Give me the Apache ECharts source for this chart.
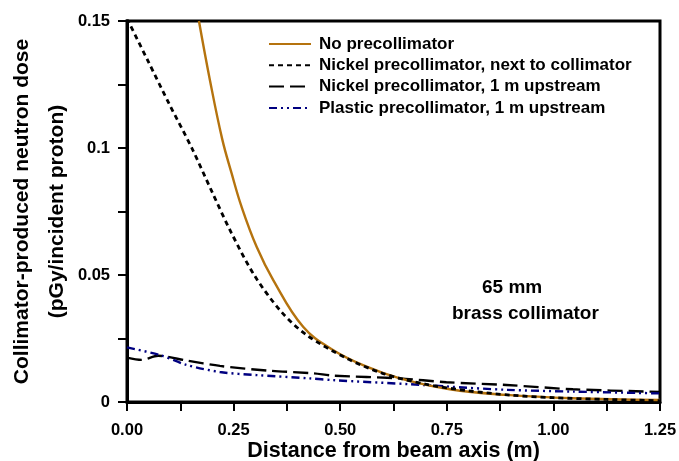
<!DOCTYPE html>
<html>
<head>
<meta charset="utf-8">
<script src="https://cdn.jsdelivr.net/npm/echarts@6/dist/echarts.min.js"></script>
<style>html,body{margin:0;padding:0;background:#fff}#c{width:679px;height:461px}</style>
</head>
<body>
<div id="c"></div>
<script>
const seriesNames = [
  'No precollimator',
  'Nickel precollimator, next to collimator',
  'Nickel precollimator, 1 m upstream',
  'Plastic precollimator, 1 m upstream'
];
const noPre = [[0.1687,0.150],[0.1945,0.1267],[0.2233,0.1035],[0.2454,0.0900],[0.2688,0.0768],[0.304,0.0611],[0.343,0.0480],[0.413,0.0296],[0.483,0.0205],[0.562,0.0139],[0.640,0.0093],[0.757,0.0050],[0.890,0.0028],[1.045,0.0015],[1.25,0.0008]];
const nickelNext = [[0,0.151],[0.05,0.134],[0.10,0.117],[0.152,0.100],[0.20,0.0825],[0.245,0.0665],[0.300,0.0495],[0.362,0.0355],[0.421,0.0264],[0.515,0.0172],[0.601,0.0112],[0.70,0.0070],[0.80,0.0044],[0.90,0.0027],[1.0,0.0017],[1.125,0.0010],[1.25,0.0005]];
const nickelUp = [[0,0.0175],[0.034,0.0166],[0.073,0.0182],[0.14,0.0163],[0.218,0.0142],[0.335,0.0123],[0.437,0.0113],[0.483,0.0104],[0.64,0.0093],[0.749,0.0078],[0.89,0.0067],[1.046,0.0050],[1.25,0.0040]];
const plasticUp = [[0,0.0215],[0.077,0.0185],[0.14,0.0146],[0.218,0.0118],[0.304,0.0106],[0.429,0.0093],[0.483,0.0086],[0.663,0.0070],[0.749,0.0061],[0.89,0.0048],[1.046,0.0041],[1.25,0.0034]];
const xTicks = [0, 0.25, 0.5, 0.75, 1.0, 1.25];
const yTicks = [0, 0.05, 0.1, 0.15];
const annotation = ['65 mm', 'brass collimator'];

const FONT = "'Liberation Sans', Arial, Helvetica, sans-serif";
const chart = echarts.init(document.getElementById('c'), null, {renderer: 'canvas'});
chart.setOption({
  animation: false,
  backgroundColor: '#fff',
  grid: {left: 127, right: 19, top: 21, bottom: 59, show: true, borderColor: '#000', borderWidth: 3, containLabel: false, outerBoundsMode: 'none'},
  xAxis: {
    type: 'value', min: xTicks[0], max: xTicks[xTicks.length - 1], interval: 0.25,
    name: 'Distance from beam axis (m)', nameLocation: 'middle', nameGap: 38, nameMoveOverlap: false,
    nameTextStyle: {fontFamily: FONT, fontWeight: 'bold', fontSize: 21.5, color: '#000'},
    axisLine: {lineStyle: {color: '#000', width: 3}},
    axisTick: {show: true, length: 9, lineStyle: {color: '#000', width: 2}},
    minorTick: {show: true, splitNumber: 2, length: 9, lineStyle: {color: '#000', width: 2}},
    splitLine: {show: false},
    axisLabel: {fontFamily: FONT, fontWeight: 'bold', fontSize: 16.5, color: '#000', margin: 20, formatter: v => v.toFixed(2)}
  },
  yAxis: {
    type: 'value', min: yTicks[0], max: yTicks[yTicks.length - 1], interval: 0.05,
    name: 'Collimator-produced neutron dose\n(pGy/incident proton)', nameLocation: 'middle', nameGap: 52, nameRotate: 90, nameMoveOverlap: false,
    nameTextStyle: {fontFamily: FONT, fontWeight: 'bold', fontSize: 21, color: '#000', lineHeight: 35},
    axisLine: {lineStyle: {color: '#000', width: 3}},
    axisTick: {show: true, length: 9, lineStyle: {color: '#000', width: 2}},
    minorTick: {show: true, splitNumber: 2, length: 9, lineStyle: {color: '#000', width: 2}},
    splitLine: {show: false},
    axisLabel: {fontFamily: FONT, fontWeight: 'bold', fontSize: 16.5, color: '#000', margin: 17}
  },
  legend: {
    orient: 'vertical', left: 268, top: 35, padding: 0, itemWidth: 42, itemHeight: 18, itemGap: 3.3,
    itemStyle: {opacity: 0},
    textStyle: {fontFamily: FONT, fontWeight: 'bold', fontSize: 17, lineHeight: 18, color: '#000', padding: [0,0,0,3]},
    data: seriesNames
  },
  graphic: [
    {type: 'text', x: 482, y: 287.5, style: {text: annotation[0], font: 'bold 19px ' + FONT, fill: '#000', verticalAlign: 'middle', align: 'left'}},
    {type: 'text', x: 452, y: 313.5, style: {text: annotation[1], font: 'bold 19px ' + FONT, fill: '#000', verticalAlign: 'middle', align: 'left'}}
  ],
  series: [
    {name: seriesNames[0], type: 'line', data: noPre, smooth: 0.4, symbol: 'none', clip: true, z: 3,
     lineStyle: {color: '#B5730E', width: 2.4, type: 'solid'}, itemStyle: {color: '#B5730E'}},
    {name: seriesNames[1], type: 'line', data: nickelNext, smooth: 0.3, symbol: 'none', clip: true, z: 4,
     lineStyle: {color: '#000', width: 2.8, type: [5, 4]}, itemStyle: {color: '#000'}},
    {name: seriesNames[2], type: 'line', data: nickelUp, smooth: 0.3, symbol: 'none', clip: true, z: 2,
     lineStyle: {color: '#000', width: 2.4, type: [15, 6]}, itemStyle: {color: '#000'}},
    {name: seriesNames[3], type: 'line', data: plasticUp, smooth: 0.3, symbol: 'none', clip: true, z: 2,
     lineStyle: {color: '#000080', width: 2.4, type: [8, 4, 2, 4, 2, 4]}, itemStyle: {color: '#000080'}}
  ]
});
</script>
</body>
</html>
